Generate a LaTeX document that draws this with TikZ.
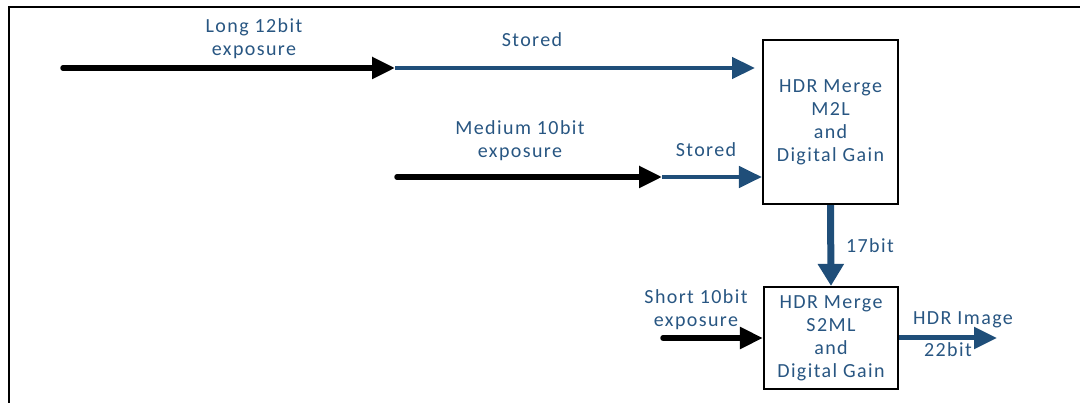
\documentclass[tikz,border=0pt]{standalone}
\usepackage{fontspec}
\setmainfont{Carlito}[LetterSpace=7]
\usetikzlibrary{arrows.meta}
\definecolor{hdrblue}{RGB}{31,78,121}
\definecolor{hdrtext}{RGB}{40,86,130}
\tikzset{
  lbl/.style={text=hdrtext, font=\fontsize{20}{23}\selectfont, align=center, inner sep=0pt},
  mergebox/.style={draw=black, line width=2.2pt, fill=white, lbl},
  blackarrow/.style={draw=black, line width=5.5pt, line cap=round, -{Triangle[length=23pt,width=21pt]}},
  bluearrow/.style={draw=hdrblue, line width=4.5pt, -{Triangle[length=23pt,width=21pt]}},
  frameline/.style={draw=black, line width=2pt}
}
\begin{document}
\begin{tikzpicture}[x=1pt,y=-1pt]
\useasboundingbox (0,0) rectangle (1080,403);
% frame
\coordinate (fbl) at (9,404);
\coordinate (ftl) at (9,7.5);
\coordinate (ftr) at (1081,7.5);
\draw[frameline] (fbl) -- (ftl) -- (ftr);
% boxes
\node[mergebox, minimum width=135pt, minimum height=164pt] (m2l) at (830.5,122) {HDR Merge\\M2L\\and\\Digital Gain};
\node[mergebox, minimum width=134pt, minimum height=102pt] (s2ml) at (831,338) {HDR Merge\\S2ML\\and\\Digital Gain};
% coordinates
\coordinate (ls) at (63,68);
\coordinate (lj) at (395,68);
\coordinate (le) at (755,68);
\coordinate (ms) at (397,177);
\coordinate (mj) at (662,177);
\coordinate (ss) at (663,338);
\coordinate (oe) at (997,338);
% connectors
\draw[bluearrow] (lj) -- (le);
\draw[blackarrow] (ls) -- (lj);
\draw[bluearrow] (mj) -- (m2l.west |- mj);
\draw[blackarrow] (ms) -- (mj);
\draw[bluearrow, line width=7pt, -{Triangle[length=22pt,width=25pt]}] (m2l.south) -- (s2ml.north);
\draw[blackarrow] (ss) -- (s2ml.west |- ss);
\draw[bluearrow, line width=5pt] (s2ml.east |- oe) -- (oe);
% labels
\node[lbl] (llong) at (254,39) {Long 12bit\\exposure};
\node[lbl] (lstored1) at (532,40) {Stored};
\node[lbl] (lmed) at (520,141) {Medium 10bit\\exposure};
\node[lbl] (lstored2) at (706,150) {Stored};
\node[lbl] (l17) at (870,246) {17bit};
\node[lbl] (lshort) at (696,310) {Short 10bit\\exposure};
\node[lbl] (lhdr) at (963,320) {HDR Image};
\node[lbl] (l22) at (948,350) {22bit};
\end{tikzpicture}
\end{document}
